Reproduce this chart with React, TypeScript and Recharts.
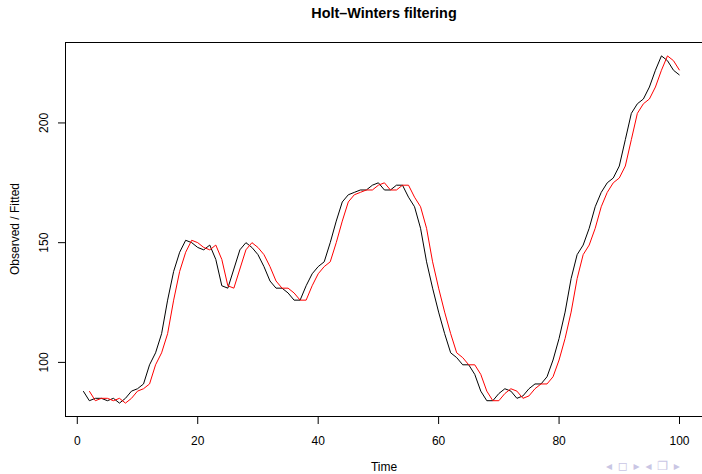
import { LineChart, Line, XAxis, YAxis } from 'recharts'

// WWWusage, time 1..100
const time = Array.from({ length: 100 }, (_, i) => i + 1)

const observed = [
  88, 84, 85, 85, 84, 85, 83, 85, 88, 89,
  91, 99, 104, 112, 126, 138, 146, 151, 150, 148,
  147, 149, 143, 132, 131, 139, 147, 150, 148, 145,
  140, 134, 131, 131, 129, 126, 126, 132, 137, 140,
  142, 150, 159, 167, 170, 171, 172, 172, 174, 175,
  172, 172, 174, 174, 169, 165, 156, 142, 131, 121,
  112, 104, 102, 99, 99, 95, 88, 84, 84, 87,
  89, 88, 85, 86, 89, 91, 91, 94, 101, 110,
  121, 135, 145, 149, 156, 165, 171, 175, 177, 182,
  193, 204, 208, 210, 215, 222, 228, 226, 222, 220,
]

// fitted values start at time 2
const fitted = [
  88, 84, 85, 85, 84, 85, 83, 85, 88,
  89, 91, 99, 104, 112, 126, 138, 146, 151, 150,
  148, 147, 149, 143, 132, 131, 139, 147, 150, 148,
  145, 140, 134, 131, 131, 129, 126, 126, 132, 137,
  140, 142, 150, 159, 167, 170, 171, 172, 172, 174,
  175, 172, 172, 174, 174, 169, 165, 156, 142, 131,
  121, 112, 104, 102, 99, 99, 95, 88, 84, 84,
  87, 89, 88, 85, 86, 89, 91, 91, 94, 101,
  110, 121, 135, 145, 149, 156, 165, 171, 175, 177,
  182, 193, 204, 208, 210, 215, 222, 228, 226, 222,
]

const xTicks = [0, 20, 40, 60, 80, 100]
const yTicks = [100, 150, 200]

const data = time.map((t, i) => ({
  time: t,
  observed: observed[i],
  fitted: i === 0 ? null : fitted[i - 1],
}))

const font = '"Liberation Sans", Arial, Helvetica, sans-serif'

function XTick({ x, y, payload }: any) {
  return (
    <text x={x} y={y} dy="0.71em" textAnchor="middle" fontSize={12} fontFamily={font} fill="#000">
      {payload.value}
    </text>
  )
}

function YTick({ x, y, payload }: any) {
  return (
    <text x={x} y={y} transform={`rotate(-90 ${x} ${y})`} textAnchor="middle" fontSize={12} fontFamily={font} fill="#000">
      {payload.value}
    </text>
  )
}

export default function App() {
  return (
    <div style={{ position: 'fixed', left: 0, top: 0, width: 702, height: 474, overflow: 'hidden', background: '#fff', fontFamily: font }}>
      <LineChart width={720} height={474} data={data} margin={{ top: 42, right: 17, bottom: 0, left: 0 }}>
        <XAxis
          dataKey="time"
          type="number"
          domain={[-2.04, 103.9]}
          ticks={xTicks}
          allowDataOverflow
          height={57}
          axisLine={false}
          tickSize={7}
          tickMargin={12}
          tickLine={{ stroke: '#000' }}
          tick={<XTick />}
        />
        <YAxis
          type="number"
          domain={[77.2, 233.8]}
          ticks={yTicks}
          allowDataOverflow
          width={65}
          axisLine={false}
          tickSize={7}
          tickMargin={10}
          tickLine={{ stroke: '#000' }}
          tick={<YTick />}
        />
        <Line type="linear" dataKey="observed" stroke="#000" strokeWidth={1} dot={false} isAnimationActive={false} />
        <Line type="linear" dataKey="fitted" stroke="#ff0000" strokeWidth={1} dot={false} isAnimationActive={false} />
      </LineChart>

      {/* plot box */}
      <div style={{ position: 'absolute', left: 65, top: 42, width: 638, height: 375, border: '1px solid #000', boxSizing: 'border-box', pointerEvents: 'none' }} />

      <div style={{ position: 'absolute', left: 234, top: 4, width: 300, textAlign: 'center', fontSize: 14.4, fontWeight: 'bold', lineHeight: '18px' }}>
        Holt–Winters filtering
      </div>
      <div style={{ position: 'absolute', left: 284, top: 460, width: 200, textAlign: 'center', fontSize: 12, lineHeight: '14px' }}>
        Time
      </div>
      <div style={{ position: 'absolute', left: -85, top: 222, width: 200, textAlign: 'center', fontSize: 12, lineHeight: '14px', transform: 'rotate(-90deg)' }}>
        Observed / Fitted
      </div>
      <div style={{ position: 'absolute', left: 606, top: 459, fontSize: 12, color: '#c9c6e4', fontFamily: '"DejaVu Sans", sans-serif', letterSpacing: 1, whiteSpace: 'nowrap' }}>
        ◂ ◻ ▸ ◂ ❐ ▸
      </div>
    </div>
  )
}
